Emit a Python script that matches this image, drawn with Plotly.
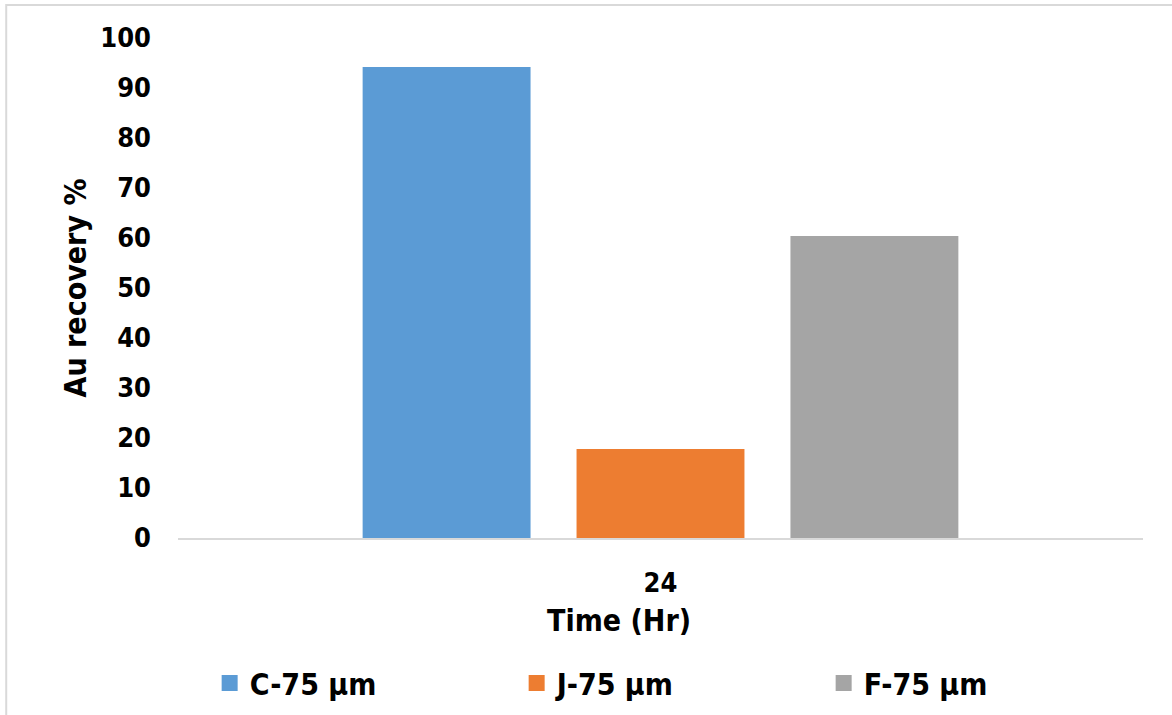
import plotly.graph_objects as go

# Au recovery after 24 h leaching, by sample
time_labels = ["24"]
series_names = ["C-75 µm", "J-75 µm", "F-75 µm"]
recovery_c = [94.2]
recovery_j = [17.8]
recovery_f = [60.4]
y_ticks = [0, 10, 20, 30, 40, 50, 60, 70, 80, 90, 100]

colors = ["#5B9BD5", "#ED7D31", "#A5A5A5"]
FONT = "DejaVu Sans Condensed, DejaVu Sans, sans-serif"

fig = go.Figure()
for name, vals, col in zip(series_names, [recovery_c, recovery_j, recovery_f], colors):
    fig.add_trace(go.Bar(x=time_labels, y=vals, name=name, showlegend=False,
                         marker=dict(color=col, line=dict(width=0))))

# legend entries with larger square swatches
for name, col in zip(series_names, colors):
    fig.add_trace(go.Scatter(x=[None], y=[None], mode="markers", name=name,
                             marker=dict(symbol="square", size=17, color=col)))

fig.update_layout(
    width=1172, height=715,
    margin=dict(l=178, r=29, t=38, b=177, autoexpand=False),
    paper_bgcolor="white", plot_bgcolor="white",
    barmode="group", bargap=0.335, bargroupgap=0.215,
    font=dict(family=FONT, size=27, color="black"),
    showlegend=True,
    legend=dict(orientation="h", x=0.51, xanchor="center", y=-0.29, yanchor="middle",
                font=dict(family=FONT, size=30, color="black", weight="bold"),
                entrywidth=262, entrywidthmode="pixels", itemwidth=30,
                bgcolor="rgba(0,0,0,0)"),
    shapes=[dict(type="rect", xref="paper", yref="paper",
                 x0=-0.178, x1=1.06, y0=-0.40, y1=1.066,
                 line=dict(color="#D9D9D9", width=2), fillcolor="rgba(0,0,0,0)",
                 layer="below")],
    annotations=[dict(text="Time (Hr)", xref="paper", yref="paper",
                      x=0.457, y=-0.164, xanchor="center", yanchor="middle",
                      showarrow=False,
                      font=dict(family=FONT, size=30, color="black", weight="bold"))],
)

fig.update_xaxes(
    automargin=False,
    showline=True, linecolor="#D9D9D9", linewidth=2, showgrid=False,
    ticks="", tickfont=dict(family=FONT, size=27, color="black", weight="bold"),
    ticklabelstandoff=20,
)
fig.update_yaxes(
    automargin=False,
    range=[0, 100], tickvals=y_ticks, showgrid=False, zeroline=False,
    showline=False, ticks="",
    tickfont=dict(family=FONT, size=27, color="black", weight="bold"),
    ticklabelstandoff=26,
    title=dict(text="Au recovery %", standoff=4,
               font=dict(family=FONT, size=30, color="black", weight="bold")),
)

fig.write_html("out.html")
